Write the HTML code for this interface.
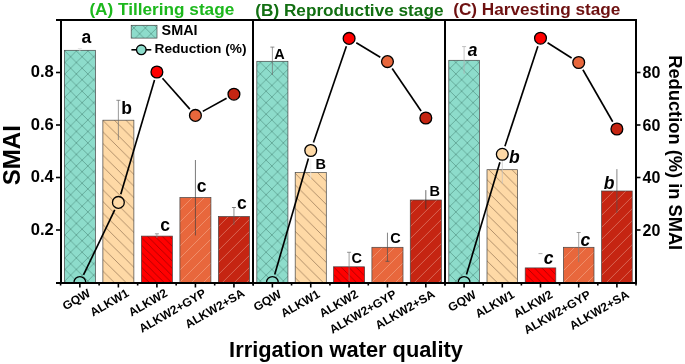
<!DOCTYPE html>
<html><head><meta charset="utf-8"><style>
html,body{margin:0;padding:0;background:#fff;}
body{width:685px;height:364px;overflow:hidden;}
svg{display:block;will-change:transform;}
text{font-family:"Liberation Sans",sans-serif;font-weight:bold;}
</style></head><body>
<svg width="685" height="364" viewBox="0 0 685 364">
<defs>
<pattern id="pX" patternUnits="userSpaceOnUse" width="11.5" height="11.5" x="1.6" y="10.7">
<rect width="11.5" height="11.5" fill="#8ddccb"/>
<path d="M0,0L11.5,11.5M-1,10.5L1,12.5M10.5,-1L12.5,1M11.5,0L0,11.5M-1,1L1,-1M10.5,12.5L12.5,10.5" stroke="#4b8a7c" stroke-width="0.6"/>
</pattern>
<pattern id="pP" patternUnits="userSpaceOnUse" width="11.6" height="11.6" x="5.8" y="0">
<rect width="11.6" height="11.6" fill="#fed9a6"/>
<path d="M0,0L11.6,11.6M-1,10.6L1,12.6M10.6,-1L12.6,1" stroke="#8f7050" stroke-width="0.7"/>
</pattern>
<pattern id="pR" patternUnits="userSpaceOnUse" width="7.4" height="7.4" x="0" y="0">
<rect width="7.4" height="7.4" fill="#ff0000"/>
<path d="M0,0L7.4,7.4M-1,6.4L1,8.4M6.4,-1L8.4,1" stroke="#8a0000" stroke-width="0.65"/>
</pattern>
<pattern id="pG" patternUnits="userSpaceOnUse" width="12" height="12" x="6" y="0">
<rect width="12" height="12" fill="#e8673c"/>
<path d="M0,12L12,0M-1,1L1,-1M11,13L13,11" stroke="#f3a88a" stroke-width="0.6"/>
</pattern>
<pattern id="pS" patternUnits="userSpaceOnUse" width="12" height="12" x="0.9" y="0">
<rect width="12" height="12" fill="#c52512"/>
<path d="M0,12L12,0M-1,1L1,-1M11,13L13,11" stroke="#e0806e" stroke-width="0.7"/>
</pattern>
<clipPath id="clipP"><rect x="0" y="0" width="685" height="282.5"/></clipPath>
</defs>

<rect x="64.36" y="50.30" width="31.00" height="232.20" fill="url(#pX)" stroke="#444" stroke-width="0.7"/>
<rect x="102.88" y="120.20" width="31.00" height="162.30" fill="url(#pP)" stroke="#444" stroke-width="0.7"/>
<rect x="141.40" y="236.10" width="31.00" height="46.40" fill="url(#pR)" stroke="#444" stroke-width="0.7"/>
<rect x="179.92" y="197.50" width="31.00" height="85.00" fill="url(#pG)" stroke="#444" stroke-width="0.7"/>
<rect x="218.44" y="216.50" width="31.00" height="66.00" fill="url(#pS)" stroke="#444" stroke-width="0.7"/>
<line x1="79.86" y1="48.50" x2="79.86" y2="52.00" stroke="#ddd" stroke-width="0.7"/>
<line x1="77.86" y1="48.50" x2="81.86" y2="48.50" stroke="#ddd" stroke-width="0.8"/>
<line x1="118.38" y1="100.30" x2="118.38" y2="140.00" stroke="#707070" stroke-width="0.7"/>
<line x1="116.38" y1="100.30" x2="120.38" y2="100.30" stroke="#707070" stroke-width="0.8"/>
<line x1="156.90" y1="233.80" x2="156.90" y2="238.00" stroke="#888" stroke-width="0.7"/>
<line x1="154.90" y1="233.80" x2="158.90" y2="233.80" stroke="#888" stroke-width="0.8"/>
<line x1="195.42" y1="160.00" x2="195.42" y2="235.50" stroke="#404040" stroke-width="0.7"/>
<line x1="233.94" y1="207.50" x2="233.94" y2="225.00" stroke="#606060" stroke-width="0.7"/>
<line x1="231.94" y1="207.50" x2="235.94" y2="207.50" stroke="#606060" stroke-width="0.8"/>
<text x="81.39" y="43.43" font-size="17.5">a</text>
<text x="121.14" y="113.62" font-size="17.5">b</text>
<text x="160.22" y="230.62" font-size="17.5">c</text>
<text x="196.82" y="192.22" font-size="17.5">c</text>
<text x="236.92" y="209.02" font-size="17.5">c</text>
<line x1="83.50" y1="274.93" x2="114.74" y2="209.97" stroke="#000" stroke-width="1.65"/>
<line x1="120.76" y1="194.34" x2="154.52" y2="80.06" stroke="#000" stroke-width="1.65"/>
<line x1="162.48" y1="78.28" x2="189.84" y2="109.12" stroke="#000" stroke-width="1.65"/>
<line x1="202.78" y1="111.35" x2="226.58" y2="98.25" stroke="#000" stroke-width="1.65"/>
<g clip-path="url(#clipP)">
<circle cx="79.86" cy="282.50" r="5.9" fill="#8ddccb" stroke="#000" stroke-width="1.3"/>
<circle cx="118.38" cy="202.40" r="5.9" fill="#fed9a6" stroke="#000" stroke-width="1.3"/>
<circle cx="156.90" cy="72.00" r="5.9" fill="#ff0000" stroke="#000" stroke-width="1.3"/>
<circle cx="195.42" cy="115.40" r="5.9" fill="#e8673c" stroke="#000" stroke-width="1.3"/>
<circle cx="233.94" cy="94.20" r="5.9" fill="#c52512" stroke="#000" stroke-width="1.3"/>
</g>
<text x="89.4" y="14.9" font-size="17.2" fill="#1cb81c">(A) Tillering stage</text>
<text transform="translate(91.36,295.50) rotate(-30)" text-anchor="end" font-size="12">GQW</text>
<text transform="translate(129.88,295.50) rotate(-30)" text-anchor="end" font-size="12">ALKW1</text>
<text transform="translate(168.40,295.50) rotate(-30)" text-anchor="end" font-size="12">ALKW2</text>
<text transform="translate(206.92,295.50) rotate(-30)" text-anchor="end" font-size="12">ALKW2+GYP</text>
<text transform="translate(245.44,295.50) rotate(-30)" text-anchor="end" font-size="12">ALKW2+SA</text>
<line x1="79.86" y1="282.5" x2="79.86" y2="287.5" stroke="#000" stroke-width="1.6"/>
<line x1="118.38" y1="282.5" x2="118.38" y2="287.5" stroke="#000" stroke-width="1.6"/>
<line x1="156.90" y1="282.5" x2="156.90" y2="287.5" stroke="#000" stroke-width="1.6"/>
<line x1="195.42" y1="282.5" x2="195.42" y2="287.5" stroke="#000" stroke-width="1.6"/>
<line x1="233.94" y1="282.5" x2="233.94" y2="287.5" stroke="#000" stroke-width="1.6"/>
<line x1="60.60" y1="282.5" x2="60.60" y2="285.5" stroke="#000" stroke-width="1.6"/>
<line x1="99.12" y1="282.5" x2="99.12" y2="285.5" stroke="#000" stroke-width="1.6"/>
<line x1="137.64" y1="282.5" x2="137.64" y2="285.5" stroke="#000" stroke-width="1.6"/>
<line x1="176.16" y1="282.5" x2="176.16" y2="285.5" stroke="#000" stroke-width="1.6"/>
<line x1="214.68" y1="282.5" x2="214.68" y2="285.5" stroke="#000" stroke-width="1.6"/>
<line x1="253.20" y1="282.5" x2="253.20" y2="285.5" stroke="#000" stroke-width="1.6"/>
<rect x="256.83" y="61.30" width="31.10" height="221.20" fill="url(#pX)" stroke="#444" stroke-width="0.7"/>
<rect x="295.19" y="172.60" width="31.10" height="109.90" fill="url(#pP)" stroke="#444" stroke-width="0.7"/>
<rect x="333.55" y="266.80" width="31.10" height="15.70" fill="url(#pR)" stroke="#444" stroke-width="0.7"/>
<rect x="371.91" y="247.30" width="31.10" height="35.20" fill="url(#pG)" stroke="#444" stroke-width="0.7"/>
<rect x="410.27" y="200.00" width="31.10" height="82.50" fill="url(#pS)" stroke="#444" stroke-width="0.7"/>
<line x1="272.38" y1="47.10" x2="272.38" y2="75.00" stroke="#707070" stroke-width="0.7"/>
<line x1="270.38" y1="47.10" x2="274.38" y2="47.10" stroke="#707070" stroke-width="0.8"/>
<line x1="310.74" y1="158.80" x2="310.74" y2="180.00" stroke="#e8e8e8" stroke-width="0.7"/>
<line x1="349.10" y1="252.30" x2="349.10" y2="281.00" stroke="#777" stroke-width="0.7"/>
<line x1="347.10" y1="252.30" x2="351.10" y2="252.30" stroke="#777" stroke-width="0.8"/>
<line x1="387.46" y1="232.70" x2="387.46" y2="261.30" stroke="#505050" stroke-width="0.7"/>
<line x1="385.46" y1="261.30" x2="389.46" y2="261.30" stroke="#505050" stroke-width="0.8"/>
<line x1="425.82" y1="190.10" x2="425.82" y2="209.20" stroke="#333" stroke-width="0.7"/>
<text x="274.34" y="58.50" font-size="14.5">A</text>
<text x="315.43" y="168.80" font-size="14.5">B</text>
<text x="351.41" y="263.16" font-size="14.5">C</text>
<text x="390.21" y="242.85" font-size="14.5">C</text>
<text x="429.53" y="196.40" font-size="14.5">B</text>
<line x1="274.72" y1="274.43" x2="308.40" y2="158.57" stroke="#000" stroke-width="1.65"/>
<line x1="313.46" y1="142.55" x2="346.38" y2="46.35" stroke="#000" stroke-width="1.65"/>
<line x1="356.29" y1="42.75" x2="380.27" y2="57.25" stroke="#000" stroke-width="1.65"/>
<line x1="392.18" y1="68.55" x2="421.10" y2="111.05" stroke="#000" stroke-width="1.65"/>
<g clip-path="url(#clipP)">
<circle cx="272.38" cy="282.50" r="5.9" fill="#8ddccb" stroke="#000" stroke-width="1.3"/>
<circle cx="310.74" cy="150.50" r="5.9" fill="#fed9a6" stroke="#000" stroke-width="1.3"/>
<circle cx="349.10" cy="38.40" r="5.9" fill="#ff0000" stroke="#000" stroke-width="1.3"/>
<circle cx="387.46" cy="61.60" r="5.9" fill="#e8673c" stroke="#000" stroke-width="1.3"/>
<circle cx="425.82" cy="118.00" r="5.9" fill="#c52512" stroke="#000" stroke-width="1.3"/>
</g>
<text x="255.3" y="15.5" font-size="17.2" fill="#126f12">(B) Reproductive stage</text>
<text transform="translate(282.38,296.50) rotate(-30)" text-anchor="end" font-size="12">GQW</text>
<text transform="translate(320.74,296.50) rotate(-30)" text-anchor="end" font-size="12">ALKW1</text>
<text transform="translate(359.10,296.50) rotate(-30)" text-anchor="end" font-size="12">ALKW2</text>
<text transform="translate(397.46,296.50) rotate(-30)" text-anchor="end" font-size="12">ALKW2+GYP</text>
<text transform="translate(435.82,296.50) rotate(-30)" text-anchor="end" font-size="12">ALKW2+SA</text>
<line x1="272.38" y1="282.5" x2="272.38" y2="287.5" stroke="#000" stroke-width="1.6"/>
<line x1="310.74" y1="282.5" x2="310.74" y2="287.5" stroke="#000" stroke-width="1.6"/>
<line x1="349.10" y1="282.5" x2="349.10" y2="287.5" stroke="#000" stroke-width="1.6"/>
<line x1="387.46" y1="282.5" x2="387.46" y2="287.5" stroke="#000" stroke-width="1.6"/>
<line x1="425.82" y1="282.5" x2="425.82" y2="287.5" stroke="#000" stroke-width="1.6"/>
<line x1="253.20" y1="282.5" x2="253.20" y2="285.5" stroke="#000" stroke-width="1.6"/>
<line x1="291.56" y1="282.5" x2="291.56" y2="285.5" stroke="#000" stroke-width="1.6"/>
<line x1="329.92" y1="282.5" x2="329.92" y2="285.5" stroke="#000" stroke-width="1.6"/>
<line x1="368.28" y1="282.5" x2="368.28" y2="285.5" stroke="#000" stroke-width="1.6"/>
<line x1="406.64" y1="282.5" x2="406.64" y2="285.5" stroke="#000" stroke-width="1.6"/>
<line x1="445.00" y1="282.5" x2="445.00" y2="285.5" stroke="#000" stroke-width="1.6"/>
<rect x="448.80" y="60.30" width="30.60" height="222.20" fill="url(#pX)" stroke="#444" stroke-width="0.7"/>
<rect x="487.00" y="169.70" width="30.60" height="112.80" fill="url(#pP)" stroke="#444" stroke-width="0.7"/>
<rect x="525.20" y="267.90" width="30.60" height="14.60" fill="url(#pR)" stroke="#444" stroke-width="0.7"/>
<rect x="563.40" y="247.30" width="30.60" height="35.20" fill="url(#pG)" stroke="#444" stroke-width="0.7"/>
<rect x="601.60" y="191.00" width="30.60" height="91.50" fill="url(#pS)" stroke="#444" stroke-width="0.7"/>
<line x1="464.10" y1="46.60" x2="464.10" y2="73.80" stroke="#b0b0b0" stroke-width="0.7"/>
<line x1="462.10" y1="46.60" x2="466.10" y2="46.60" stroke="#b0b0b0" stroke-width="0.8"/>
<line x1="502.30" y1="159.80" x2="502.30" y2="183.70" stroke="#c0c0c0" stroke-width="0.7"/>
<line x1="540.50" y1="253.60" x2="540.50" y2="253.60" stroke="#999" stroke-width="0.7"/>
<line x1="538.50" y1="253.60" x2="542.50" y2="253.60" stroke="#999" stroke-width="0.8"/>
<line x1="578.70" y1="232.50" x2="578.70" y2="262.10" stroke="#808080" stroke-width="0.7"/>
<line x1="576.70" y1="232.50" x2="580.70" y2="232.50" stroke="#808080" stroke-width="0.8"/>
<line x1="616.90" y1="169.10" x2="616.90" y2="213.00" stroke="#505050" stroke-width="0.7"/>
<text x="467.81" y="55.93" font-size="17.5" font-style="italic">a</text>
<text x="509.00" y="162.82" font-size="17.5" font-style="italic">b</text>
<text x="543.86" y="264.43" font-size="17.5" font-style="italic">c</text>
<text x="580.46" y="246.32" font-size="17.5" font-style="italic">c</text>
<text x="603.70" y="188.62" font-size="17.5" font-style="italic">b</text>
<line x1="466.50" y1="274.45" x2="499.90" y2="162.35" stroke="#000" stroke-width="1.65"/>
<line x1="504.93" y1="146.32" x2="537.87" y2="46.18" stroke="#000" stroke-width="1.65"/>
<line x1="547.59" y1="42.71" x2="571.61" y2="57.99" stroke="#000" stroke-width="1.65"/>
<line x1="582.88" y1="69.78" x2="612.72" y2="121.72" stroke="#000" stroke-width="1.65"/>
<g clip-path="url(#clipP)">
<circle cx="464.10" cy="282.50" r="5.9" fill="#8ddccb" stroke="#000" stroke-width="1.3"/>
<circle cx="502.30" cy="154.30" r="5.9" fill="#fed9a6" stroke="#000" stroke-width="1.3"/>
<circle cx="540.50" cy="38.20" r="5.9" fill="#ff0000" stroke="#000" stroke-width="1.3"/>
<circle cx="578.70" cy="62.50" r="5.9" fill="#e8673c" stroke="#000" stroke-width="1.3"/>
<circle cx="616.90" cy="129.00" r="5.9" fill="#c52512" stroke="#000" stroke-width="1.3"/>
</g>
<text x="453.2" y="14.9" font-size="17.2" fill="#6e1111">(C) Harvesting stage</text>
<text transform="translate(477.10,297.00) rotate(-30)" text-anchor="end" font-size="12">GQW</text>
<text transform="translate(515.30,297.00) rotate(-30)" text-anchor="end" font-size="12">ALKW1</text>
<text transform="translate(553.50,297.00) rotate(-30)" text-anchor="end" font-size="12">ALKW2</text>
<text transform="translate(591.70,297.00) rotate(-30)" text-anchor="end" font-size="12">ALKW2+GYP</text>
<text transform="translate(629.90,297.00) rotate(-30)" text-anchor="end" font-size="12">ALKW2+SA</text>
<line x1="464.10" y1="282.5" x2="464.10" y2="287.5" stroke="#000" stroke-width="1.6"/>
<line x1="502.30" y1="282.5" x2="502.30" y2="287.5" stroke="#000" stroke-width="1.6"/>
<line x1="540.50" y1="282.5" x2="540.50" y2="287.5" stroke="#000" stroke-width="1.6"/>
<line x1="578.70" y1="282.5" x2="578.70" y2="287.5" stroke="#000" stroke-width="1.6"/>
<line x1="616.90" y1="282.5" x2="616.90" y2="287.5" stroke="#000" stroke-width="1.6"/>
<line x1="445.00" y1="282.5" x2="445.00" y2="285.5" stroke="#000" stroke-width="1.6"/>
<line x1="483.20" y1="282.5" x2="483.20" y2="285.5" stroke="#000" stroke-width="1.6"/>
<line x1="521.40" y1="282.5" x2="521.40" y2="285.5" stroke="#000" stroke-width="1.6"/>
<line x1="559.60" y1="282.5" x2="559.60" y2="285.5" stroke="#000" stroke-width="1.6"/>
<line x1="597.80" y1="282.5" x2="597.80" y2="285.5" stroke="#000" stroke-width="1.6"/>
<line x1="636.00" y1="282.5" x2="636.00" y2="285.5" stroke="#000" stroke-width="1.6"/>
<path d="M56,20H637M56,283H637" stroke="#000" stroke-width="2" fill="none"/>
<line x1="61" y1="19" x2="61" y2="284" stroke="#000" stroke-width="2"/>
<line x1="253" y1="19" x2="253" y2="284" stroke="#000" stroke-width="2"/>
<line x1="445" y1="19" x2="445" y2="284" stroke="#000" stroke-width="2"/>
<line x1="636" y1="19" x2="636" y2="284" stroke="#000" stroke-width="2"/>
<line x1="56" y1="230.00" x2="60.8" y2="230.00" stroke="#000" stroke-width="1.6"/>
<text transform="translate(53.7,234.50) scale(1.063,1)" font-size="15.6" text-anchor="end">0.2</text>
<line x1="56" y1="177.50" x2="60.8" y2="177.50" stroke="#000" stroke-width="1.6"/>
<text transform="translate(53.7,182.00) scale(1.063,1)" font-size="15.6" text-anchor="end">0.4</text>
<line x1="56" y1="125.00" x2="60.8" y2="125.00" stroke="#000" stroke-width="1.6"/>
<text transform="translate(53.7,129.50) scale(1.063,1)" font-size="15.6" text-anchor="end">0.6</text>
<line x1="56" y1="72.50" x2="60.8" y2="72.50" stroke="#000" stroke-width="1.6"/>
<text transform="translate(53.7,77.00) scale(1.063,1)" font-size="15.6" text-anchor="end">0.8</text>
<line x1="635.9" y1="230.00" x2="640.5" y2="230.00" stroke="#000" stroke-width="1.6"/>
<text x="642.5" y="235.70" font-size="16">20</text>
<line x1="635.9" y1="177.50" x2="640.5" y2="177.50" stroke="#000" stroke-width="1.6"/>
<text x="642.5" y="183.20" font-size="16">40</text>
<line x1="635.9" y1="125.00" x2="640.5" y2="125.00" stroke="#000" stroke-width="1.6"/>
<text x="642.5" y="130.70" font-size="16">60</text>
<line x1="635.9" y1="72.50" x2="640.5" y2="72.50" stroke="#000" stroke-width="1.6"/>
<text x="642.5" y="78.20" font-size="16">80</text>
<text transform="translate(20,155.2) rotate(-90)" text-anchor="middle" font-size="24">SMAI</text>
<text transform="translate(669,152.7) rotate(90)" text-anchor="middle" font-size="18.3">Reduction (%) in SMAI</text>
<text x="346" y="357.4" text-anchor="middle" font-size="21.8">Irrigation water quality</text>
<rect x="131.2" y="25.3" width="25.8" height="12.8" fill="url(#pX)" stroke="#444" stroke-width="0.7"/>
<text x="161.6" y="35.1" font-size="14.4">SMAI</text>
<line x1="131.4" y1="49.8" x2="151.3" y2="49.8" stroke="#000" stroke-width="1.6"/>
<circle cx="141.3" cy="49.8" r="4.8" fill="#8ddccb" stroke="#000" stroke-width="1.3"/>
<text x="154.5" y="52.7" font-size="13.7">Reduction (%)</text>
</svg></body></html>
